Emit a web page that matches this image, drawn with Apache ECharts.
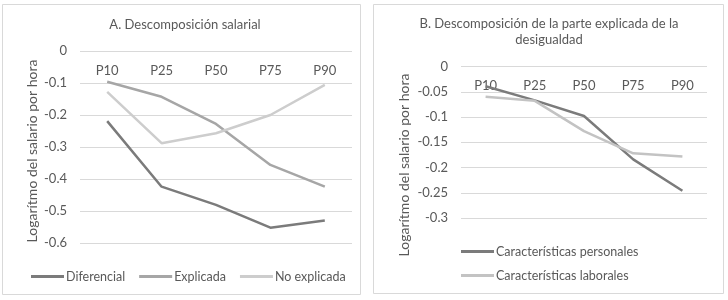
<!DOCTYPE html>
<html>
  <head>
    <meta charset="utf-8" />
    <title>Descomposición salarial</title>
    <script src="https://cdn.jsdelivr.net/npm/echarts@6/dist/echarts.min.js"></script>
    <style>
      html, body { margin: 0; padding: 0; background: #fff; }
    </style>
  </head>
  <body>
    <div id="chart" style="width: 728px; height: 300px"></div>
    <script>
      // values
      const percentiles = ['P10', 'P25', 'P50', 'P75', 'P90'];

      // panel A
      const diferencial = [-0.219, -0.424, -0.481, -0.552, -0.530];
      const explicada = [-0.096, -0.143, -0.228, -0.356, -0.424];
      const noExplicada = [-0.128, -0.288, -0.257, -0.200, -0.106];

      // panel B
      const personales = [-0.039, -0.067, -0.098, -0.184, -0.246];
      const laborales = [-0.060, -0.068, -0.128, -0.172, -0.178];

      const titleA = 'A. Descomposición salarial';
      const titleB = 'B. Descomposición de la parte explicada de la\ndesigualdad';
      const yName = 'Logarítmo del salario por hora';

      const font = 'Lato, "Open Sans", sans-serif';
      const txt = '#595959';
      const grid = '#d9d9d9';

      let chart = echarts.init(document.getElementById('chart'), null, {
        width: 728,
        height: 300,
      });

      function line(name, data, color, xi) {
        return {
          name: name,
          type: 'line',
          xAxisIndex: xi,
          yAxisIndex: xi,
          data: data,
          showSymbol: false,
          lineStyle: { width: 2.5, color: color },
          itemStyle: { color: color },
        };
      }

      function xAx(gi) {
        return {
          type: 'category',
          gridIndex: gi,
          data: percentiles,
          position: 'top',
          axisLine: { show: false },
          axisTick: { show: false },
          axisLabel: { inside: true, margin: 13, color: txt, fontSize: 13, fontFamily: font },
        };
      }

      function yAx(gi, min, interval) {
        return {
          type: 'value',
          gridIndex: gi,
          min: min,
          max: 0,
          interval: interval,
          axisLine: { show: false },
          axisTick: { show: false },
          splitLine: { lineStyle: { color: grid, width: 1 } },
          axisLabel: { margin: 13, color: txt, fontSize: 13, fontFamily: font },
        };
      }

      let legendText = { color: txt, fontSize: 12.5, fontFamily: font, padding: [0, 0, 0, -3] };

      let opts = {
        animation: false,
        backgroundColor: '#fff',
        grid: [
          { left: 80, right: 376, top: 51, bottom: 57 },
          { left: 461, right: 21, top: 66.5, bottom: 82 },
        ],
        xAxis: [xAx(0), xAx(1)],
        yAxis: [yAx(0, -0.6, 0.1), yAx(1, -0.3, 0.05)],
        legend: [
          {
            data: ['Diferencial', 'Explicada', 'No explicada'],
            left: 26,
            top: 265,
            itemWidth: 33,
            itemHeight: 3,
            itemGap: 14,
            icon: 'rect',
            textStyle: legendText,
          },
          {
            data: ['Características personales', 'Características laborales'],
            orient: 'vertical',
            left: 456,
            top: 240,
            itemWidth: 33,
            itemHeight: 3,
            itemGap: 11,
            icon: 'rect',
            textStyle: legendText,
          },
        ],
        series: [
          line('Diferencial', diferencial, '#7b7b7b', 0),
          line('Explicada', explicada, '#a6a6a6', 0),
          line('No explicada', noExplicada, '#cdcdcd', 0),
          line('Características personales', personales, '#7b7b7b', 1),
          line('Características laborales', laborales, '#c3c3c3', 1),
        ],
        graphic: [
          {
            type: 'rect',
            shape: { x: 2.5, y: 4.5, width: 358, height: 290 },
            style: { fill: null, stroke: grid, lineWidth: 1 },
            silent: true,
          },
          {
            type: 'rect',
            shape: { x: 373.5, y: 4.5, width: 350, height: 289 },
            style: { fill: null, stroke: grid, lineWidth: 1 },
            silent: true,
          },
          {
            type: 'text',
            x: 185,
            y: 25,
            style: {
              text: titleA, fill: txt, font: '13px ' + font,
              textAlign: 'center', textVerticalAlign: 'middle',
            },
          },
          {
            type: 'text',
            x: 549,
            y: 32,
            style: {
              text: titleB, fill: txt, font: '13px ' + font, lineHeight: 16,
              textAlign: 'center', textVerticalAlign: 'middle',
            },
          },
          {
            type: 'text',
            x: 32,
            y: 151,
            rotation: Math.PI / 2,
            style: {
              text: yName, fill: txt, font: '14px ' + font,
              textAlign: 'center', textVerticalAlign: 'middle',
            },
          },
          {
            type: 'text',
            x: 404,
            y: 165,
            rotation: Math.PI / 2,
            style: {
              text: yName, fill: txt, font: '14px ' + font,
              textAlign: 'center', textVerticalAlign: 'middle',
            },
          },
        ],
      };

      chart.setOption(opts);
    </script>
  </body>
</html>
